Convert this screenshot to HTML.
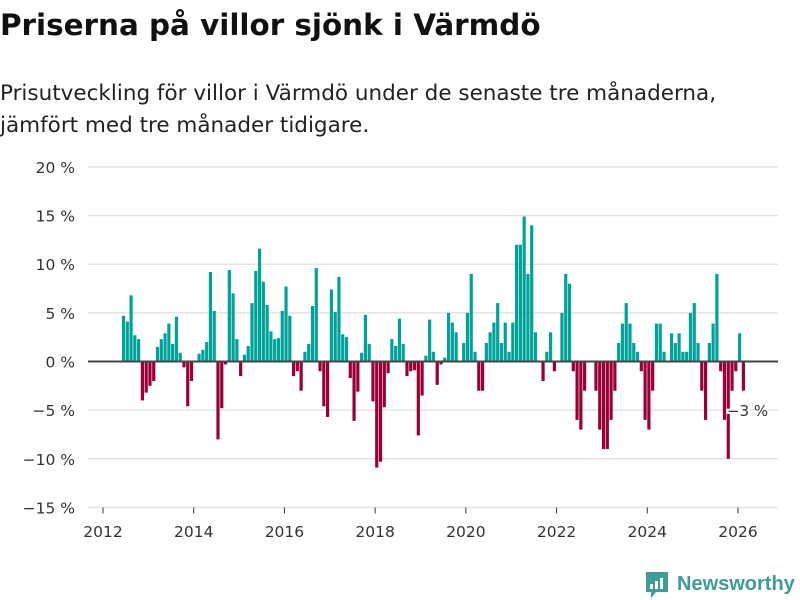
<!DOCTYPE html>
<html><head><meta charset="utf-8">
<style>
body{margin:0;width:800px;height:600px;background:#fff;font-family:"DejaVu Sans","Liberation Sans",sans-serif;overflow:hidden}
#title{position:absolute;left:0;top:8px;font-size:29.4px;font-weight:bold;color:#111;margin:0;white-space:nowrap}
#sub{position:absolute;left:0;top:78px;font-size:21.5px;line-height:32px;color:#222;white-space:nowrap}
svg{position:absolute;left:0;top:0}
</style></head><body>
<h1 id="title">Priserna på villor sjönk i Värmdö</h1>
<div id="sub">Prisutveckling för villor i Värmdö under de senaste tre månaderna,<br>jämfört med tre månader tidigare.</div>
<svg id="chart" width="800" height="600"></svg>
<script>
const startYear = 2012;
const startMonth = 5; // months since Jan 2012 for first bar
const values = [4.7,4.1,6.8,2.7,2.3,-4.0,-3.2,-2.5,-2.0,1.5,2.3,2.9,3.9,1.8,4.6,0.9,-0.6,-4.6,-2.0,0,0.8,1.2,2.0,9.2,5.2,-8.0,-4.8,-0.3,9.4,7.0,2.3,-1.5,0.7,1.6,6.0,9.3,11.6,8.2,5.8,3.1,2.3,2.4,
5.2,7.7,4.7,-1.5,-1.0,-3.0,1.0,1.8,5.7,9.6,-1.0,-4.6,-5.7,7.4,5.1,8.7,2.8,2.5,-1.7,-6.1,-3.1,0.9,4.8,1.8,-4.1,-10.9,-10.3,-4.7,-1.2,2.3,1.6,4.4,1.8,-1.5,-1.0,-0.9,-7.6,-3.5,0.6,4.3,1.0,-2.4,-0.3,0.4,5.0,
4.0,3.0,0,1.9,5.0,9.0,1.0,-3.0,-3.0,1.9,3.0,4.0,6.0,1.9,4.0,1.0,4.0,12,12,14.9,9.0,14.0,3.0,0,-2.0,1.0,3.0,-1.0,0,5.0,9.0,8.0,-1.0,-6,-7,
-3,0,0,-3,-7,-9,-9,-6,-3,1.9,3.9,6.0,3.9,1.9,1.0,-1.0,-6.0,-7,-3,3.9,3.9,1.0,0,2.9,1.9,2.9,1.0,1.0,5.0,6.0,1.9,-3,-6,1.9,3.9,9.0,-1,-6,-10,-3,-1,2.9,-3];
const yTicks = [20,15,10,5,0,-5,-10,-15];
const xTicks = [2012,2014,2016,2018,2020,2022,2024,2026];
const lastLabel = "−3 %";

const NS="http://www.w3.org/2000/svg";
const svg=document.getElementById('chart');
const y0=361.5, pxPer=9.73;
const yS=v=>y0-v*pxPer;
const xS=m=>103+m*(635/168);
function mk(t,a,p){const e=document.createElementNS(NS,t);for(const k in a)e.setAttribute(k,a[k]);(p||svg).appendChild(e);return e;}

yTicks.forEach(v=>{
  const l=mk('line',{x1:88,x2:778,y1:yS(v),y2:yS(v),stroke:'#e3e3e3','stroke-width':1.5});
  
  
  const t=mk('text',{x:75,y:yS(v)+6,'text-anchor':'end','font-size':15.5,fill:'#333'});
  t.textContent=(v<0?'−'+(-v):v)+' %';
  
  
});
xTicks.forEach(yr=>{
  const x=xS((yr-startYear)*12);
  const tk=mk('line',{x1:x,x2:x,y1:yS(-15),y2:yS(-15)+6,stroke:'#333','stroke-width':1});
  
  
  const t=mk('text',{x:x,y:537,'text-anchor':'middle','font-size':15.5,fill:'#333'});
  t.textContent=yr;
  
  
});
values.forEach((v,i)=>{
  const x=xS(startMonth+i);
  const b=mk('rect',{x:x,width:3.2,y:Math.min(yS(v),y0),height:Math.abs(yS(v)-y0),fill:v>=0?'#00a39a':'#990038'});
  
  
});
const zl=mk('line',{x1:88,x2:778,y1:y0,y2:y0,stroke:'#444','stroke-width':2});


const lt=mk('text',{x:727,y:416,'font-size':15,fill:'#333',stroke:'#fff','stroke-width':4,'paint-order':'stroke'});
lt.textContent=lastLabel;



const g=mk('g',{});


mk('path',{d:'M646 572 h22 v20 h-12 l-5 6 v-6 h-5 z',fill:'#3d9c94'},g);
mk('rect',{x:650,y:584,width:3,height:5,fill:'#fff'},g);
mk('rect',{x:655,y:581,width:3,height:8,fill:'#fff'},g);
mk('rect',{x:660,y:578,width:3,height:11,fill:'#fff'},g);
const lg=mk('text',{x:677,y:590,'font-size':20,'font-weight':'bold',fill:'#3d9c94','font-family':'Liberation Sans, sans-serif'});
lg.textContent='Newsworthy';
g.appendChild(lg);
</script>
</body></html>
